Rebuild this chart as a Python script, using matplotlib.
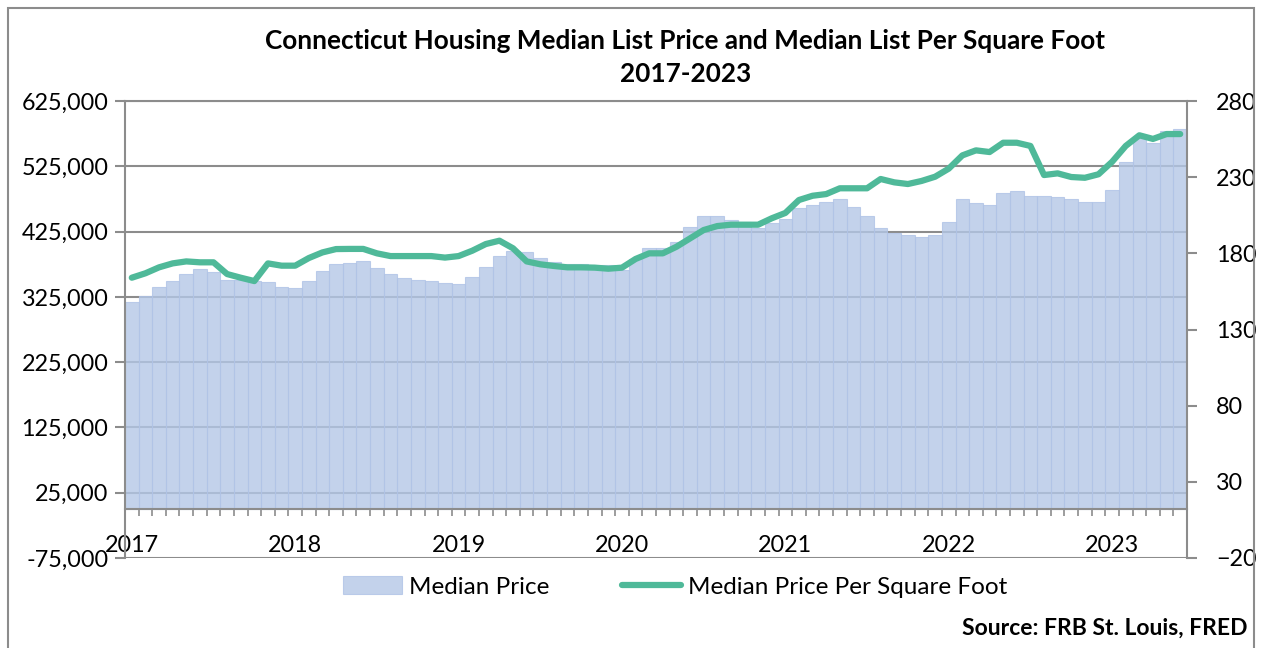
import numpy as np
import matplotlib.pyplot as plt
from matplotlib.patches import Rectangle
from matplotlib.ticker import FuncFormatter

### Data: monthly, Jan 2017 - Jun 2023.
years = [2017, 2018, 2019, 2020, 2021, 2022, 2023]
median_price = [
    317700, 326900, 339700, 349900, 360600, 367800, 362600, 350500, 350500, 349400, 347000, 339700,  # 2017
    339300, 349900, 365300, 375000, 377600, 379600, 369900, 360200, 354600, 351000, 350000, 345500,  # 2018
    344400, 356100, 371400, 388200, 395400, 394300, 384600, 378000, 375900, 374800, 374300, 373400,  # 2019
    366300, 383600, 399400, 399400, 408700, 431400, 449500, 449500, 442300, 440200, 431000, 437700,  # 2020
    443800, 461700, 465300, 469900, 474900, 462700, 449500, 430100, 423400, 419800, 416300, 420300,  # 2021
    439300, 474900, 468300, 465300, 484100, 487200, 480000, 479000, 477500, 474900, 469900, 469900,  # 2022
    488700, 532200, 567900, 560200, 579500, 582100,  # 2023
]
price_per_sqft = [
    164.0, 166.9, 170.8, 173.4, 174.7, 174.1, 174.1, 166.4, 164.0, 161.8, 173.4, 171.9,
    171.9, 176.9, 180.6, 182.8, 182.9, 182.9, 180.0, 178.2, 178.2, 178.2, 178.2, 177.2,
    178.2, 181.7, 186.1, 188.3, 183.3, 174.7, 172.8, 171.7, 170.8, 170.8, 170.6, 169.9,
    170.6, 176.3, 180.0, 180.0, 184.3, 189.8, 195.3, 197.9, 198.8, 198.8, 198.8, 203.0,
    206.5, 215.0, 217.8, 218.9, 222.7, 222.7, 222.7, 228.8, 226.6, 225.5, 227.5, 230.3,
    235.6, 244.3, 247.6, 246.5, 252.6, 252.6, 250.5, 231.4, 232.5, 230.1, 229.6, 231.9,
    240.1, 250.5, 257.5, 255.1, 258.3, 258.3,
]

plt.rcParams['font.family'] = ['Lato', 'DejaVu Sans']
grid_col = '#8c8c8c'
bar_col = '#b4c7e7'
line_col = '#4fb999'
fs = 16.8

fig = plt.figure(figsize=(12.62, 6.48), dpi=100)
ax = fig.add_axes([125/1262, 1-558/648, (1187-125)/1262, (558-101)/648])
x = np.arange(len(median_price))

# Bars (left axis)
ax.set_axisbelow(True)
ax.grid(axis='y', color=grid_col, lw=1.5)
bars = ax.bar(x, median_price, width=1.0, color=bar_col, alpha=0.8,
              edgecolor='#b0c3e6', lw=0.8, label='Median Price')
ax.set_xlim(-0.5, len(x) - 0.5)
ax.set_ylim(-75000, 625000)
ax.set_yticks(np.arange(-75000, 625001, 100000))
ax.yaxis.set_major_formatter(FuncFormatter(lambda v, p: f'{v:,.0f}'))
ax.tick_params(axis='y', which='both', direction='out', length=7, width=1.5,
               color=grid_col, labelsize=fs, pad=5)
# x axis sits on zero
ax.spines['bottom'].set_position(('data', 0))
ax.spines['bottom'].set_color(grid_col)
ax.spines['bottom'].set_linewidth(1.5)
ax.set_xticks([12*k for k in range(len(years))])
ax.set_xticklabels([str(y) for y in years])
ax.set_xticks(np.arange(-0.5, len(x), 1), minor=True)
ax.tick_params(axis='x', which='major', length=0, labelsize=fs, pad=19)
ax.tick_params(axis='x', which='minor', direction='out', length=5, width=1.2, color=grid_col)
for s in ['left', 'right', 'top']:
    ax.spines[s].set_color(grid_col)
    ax.spines[s].set_linewidth(1.5)

# Line (right axis)
ax2 = ax.twinx()
ln, = ax2.plot(x, price_per_sqft, color=line_col, lw=4.5, solid_capstyle='round',
               solid_joinstyle='round', label='Median Price Per Square Foot')
ax2.set_ylim(-20, 280)
ax2.set_yticks(np.arange(-20, 281, 50))
ax2.tick_params(axis='y', direction='out', length=7, width=1.5, color=grid_col,
                labelsize=fs, pad=14)
for s in ax2.spines.values():
    s.set_visible(False)

# Title, legend, source
fig.text(0.543, 0.911, 'Connecticut Housing Median List Price and Median List Per Square Foot\n2017-2023',
         ha='center', va='center', fontsize=18.8, fontweight='bold', linespacing=1.45)
fig.legend([bars, ln], ['Median Price', 'Median Price Per Square Foot'], loc='center',
           bbox_to_anchor=(0.535, 1-587/648), ncol=2, frameon=False, fontsize=17.5,
           handlelength=2.4, handletextpad=0.3, columnspacing=3.0)
fig.text(1248/1262, 1-628/648, 'Source: FRB St. Louis, FRED', ha='right', va='center',
         fontsize=16.5, fontweight='bold')
fig.patches.append(Rectangle((8/1262, -0.02), (1254-8)/1262, 1.02-8/648, transform=fig.transFigure,
                             fill=False, edgecolor=grid_col, lw=1.5))

plt.savefig('out.png', dpi=100)
